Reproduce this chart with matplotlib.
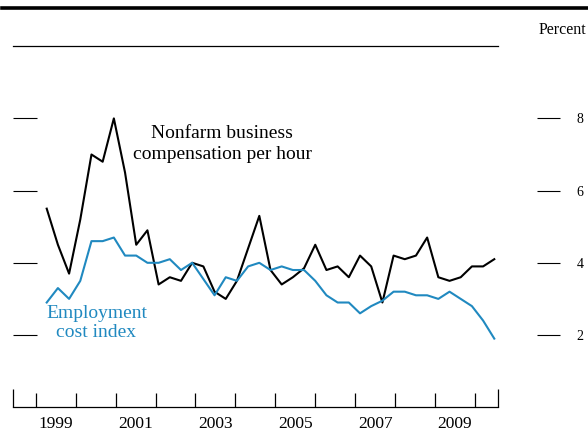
import numpy as np
import matplotlib
matplotlib.use("Agg")
import matplotlib.pyplot as plt
from matplotlib.lines import Line2D

plt.rcParams['font.family'] = ['Liberation Serif', 'DejaVu Serif']

# four-quarter percent change, 1999:Q1 - 2009:Q1
nfb_comp = [5.5, 4.5, 3.7, 5.2, 7.0, 6.8, 8.0, 6.5, 4.5, 4.9,
            3.4, 3.6, 3.5, 4.0, 3.9, 3.2, 3.0, 3.5, 4.4, 5.3,
            3.8, 3.4, 3.6, 3.85, 4.5, 3.8, 3.9, 3.6, 4.2, 3.9,
            2.9, 4.2, 4.1, 4.2, 4.7, 3.6, 3.5, 3.6, 3.9, 3.9, 4.1]
eci = [2.9, 3.3, 3.0, 3.5, 4.6, 4.6, 4.7, 4.2, 4.2, 4.0,
       4.0, 4.1, 3.8, 4.0, 3.55, 3.1, 3.6, 3.5, 3.9, 4.0,
       3.8, 3.9, 3.8, 3.8, 3.5, 3.1, 2.9, 2.9, 2.6, 2.8,
       2.95, 3.2, 3.2, 3.1, 3.1, 3.0, 3.2, 3.0, 2.8, 2.4, 1.9]
quarters = 1999 + np.arange(len(nfb_comp)) / 4

year_ticks = list(range(1999, 2011))
year_labels = ['1999', '2001', '2003', '2005', '2007', '2009']
y_ticks = [2, 4, 6, 8]

BLUE = '#2089c0'
FS = 12.5
FS_LBL = 14

fig = plt.figure(figsize=(5.88, 4.32), dpi=100)
ax = fig.add_axes([12.7 / 588, 24.8 / 432, 485.3 / 588, 361 / 432])

ax.plot(quarters, nfb_comp, color='black', lw=1.5)
ax.plot(quarters, eci, color=BLUE, lw=1.5)

ax.set_xlim(1998.24, 2009.083)
ax.set_ylim(0, 10)
for s in ['left', 'right']:
    ax.spines[s].set_visible(False)
for s in ['top', 'bottom']:
    ax.spines[s].set_linewidth(0.9)
ax.set_xticks(ax.get_xlim())
ax.set_xticklabels([])
ax.tick_params(axis='x', direction='in', length=13, width=0.9)
ax.set_yticks(y_ticks)
ax.set_yticklabels([])
ax.tick_params(axis='y', direction='in', length=17, width=0.8)

# right-hand percent scale, set off from the frame
ax_r = ax.twinx()
ax_r.set_ylim(0, 10)
ax_r.set_yticks(y_ticks)
ax_r.set_yticklabels([str(v) for v in y_ticks], fontsize=FS)
ax_r.spines['right'].set_position(('outward', 28))
for s in ax_r.spines.values():
    s.set_visible(False)
ax_r.tick_params(axis='y', direction='out', length=16.5, width=0.8, pad=12)

# year scale
ax_y = ax.twiny()
ax_y.set_xlim(1998.424, 2010.576)
for s in ax_y.spines.values():
    s.set_visible(False)
ax_y.xaxis.set_ticks_position('bottom')
ax_y.xaxis.set_label_position('bottom')
ax_y.set_xticks(year_ticks)
ax_y.set_xticklabels([])
ax_y.set_xticks([int(y) + 0.5 for y in year_labels], minor=True)
ax_y.set_xticklabels(year_labels, minor=True, fontsize=FS)
ax_y.tick_params(axis='x', which='major', direction='in', length=10, width=0.9)
ax_y.tick_params(axis='x', which='minor', length=0, pad=6)

ax.text(2002.92, 7.29, 'Nonfarm business\ncompensation per hour',
        ha='center', va='center', fontsize=FS_LBL, linespacing=1.3)
ax.text(2000.11, 2.33, 'Employment\ncost index', color=BLUE,
        ha='center', va='center', fontsize=FS_LBL, linespacing=1.2)

fig.text(0.997, 1 - 30 / 432, 'Percent', ha='right', va='center', fontsize=FS - 1)
fig.add_artist(Line2D([2 / 588, 1], [1 - 8 / 432] * 2, color='black', lw=2.6))

fig.savefig('out.png', dpi=100)
